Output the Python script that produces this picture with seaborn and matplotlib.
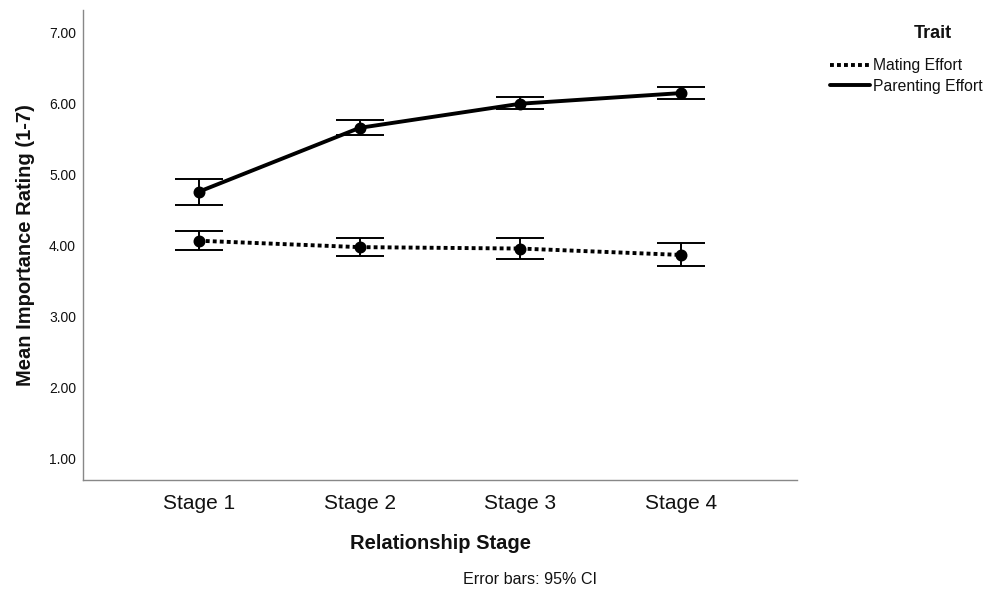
import matplotlib
matplotlib.use("Agg")
import matplotlib.pyplot as plt
import seaborn as sns
import pandas as pd
from matplotlib.lines import Line2D

stages = ["Stage 1", "Stage 2", "Stage 3", "Stage 4"]
traits = ["Mating Effort", "Parenting Effort"]
mating_mean = [4.07, 3.98, 3.96, 3.87]
mating_lo = [3.94, 3.85, 3.81, 3.71]
mating_hi = [4.21, 4.11, 4.11, 4.04]
parent_mean = [4.76, 5.66, 6.00, 6.15]
parent_lo = [4.58, 5.56, 5.92, 6.06]
parent_hi = [4.94, 5.77, 6.09, 6.24]
yticks = [1, 2, 3, 4, 5, 6, 7]

sns.set_theme(style="white")
plt.rcParams["font.family"] = ["Liberation Sans", "DejaVu Sans"]
plt.rcParams["text.color"] = "#111111"
plt.rcParams["axes.labelcolor"] = "#111111"

df = pd.DataFrame({
    "Relationship Stage": stages * 2,
    "Mean": mating_mean + parent_mean,
    "Trait": [traits[0]] * 4 + [traits[1]] * 4,
})

fig = plt.figure(figsize=(9.89, 5.93), dpi=100)
ax = fig.add_axes([83 / 989, 113 / 593, (797 - 83) / 989, (480 - 10) / 593])

dot = (0, (1, 0.8))
sns.pointplot(data=df, x="Relationship Stage", y="Mean", hue="Trait",
              hue_order=traits, palette=["black", "black"],
              linestyles=[dot, "-"], markers=["o", "o"],
              errorbar=None, ax=ax, markersize=6.5, linewidth=2.8,
              legend=False)

x = list(range(len(stages)))
for m, lo, hi in [(mating_mean, mating_lo, mating_hi), (parent_mean, parent_lo, parent_hi)]:
    err = [[a - b for a, b in zip(m, lo)], [b - a for a, b in zip(m, hi)]]
    ax.errorbar(x, m, yerr=err, fmt="none", ecolor="black", elinewidth=1.4,
                capsize=17, capthick=1.4, zorder=5)

ax.set_xlim(-0.72, 3.72)
ax.set_ylim(0.70, 7.32)
ax.set_yticks(yticks)
ax.set_yticklabels([f"{v:.2f}" for v in yticks], fontsize=10, color="#111111")
ax.tick_params(axis="x", labelsize=15, colors="#111111", length=0, pad=10)
ax.tick_params(axis="y", length=0, pad=5)
ax.set_xlabel("Relationship Stage", fontsize=14.5, fontweight="bold", labelpad=15)
ax.set_ylabel("Mean Importance Rating (1-7)", fontsize=14.5, fontweight="bold", labelpad=10)
for s in ["top", "right"]:
    ax.spines[s].set_visible(False)
for s in ["left", "bottom"]:
    ax.spines[s].set_color("#888888")
    ax.spines[s].set_linewidth(1.0)

handles = [Line2D([0], [0], color="black", lw=2.8, linestyle=dot),
           Line2D([0], [0], color="black", lw=2.8)]
fig.legend(handles, traits, loc="upper left",
           bbox_to_anchor=(824 / 989, 1 - 52 / 593), frameon=False,
           fontsize=11.3, handlelength=2.5, handletextpad=0.25,
           labelspacing=0.35, borderaxespad=0)
fig.text(933 / 989, 1 - 33 / 593, "Trait", ha="center", va="center",
         fontsize=13, fontweight="bold")

fig.text(530 / 989, 1 - 579 / 593, "Error bars: 95% CI", ha="center", va="center",
         fontsize=11.6)

fig.savefig("out.png", dpi=100)
